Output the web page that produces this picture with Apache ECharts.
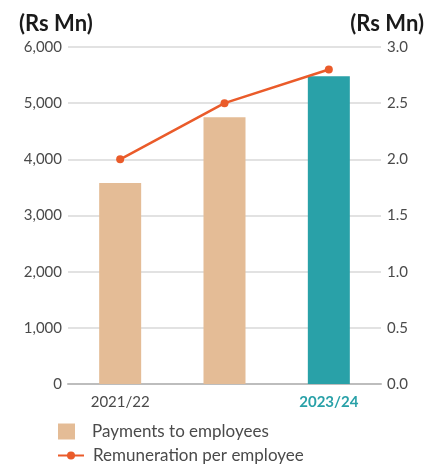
<!DOCTYPE html>
<html>
<head>
<meta charset="utf-8">
<script src="https://cdn.jsdelivr.net/npm/echarts@6/dist/echarts.min.js"></script>
<style>
  html, body { margin: 0; padding: 0; background: #fff; }
  #chart { width: 448px; height: 464px; }
</style>
</head>
<body>
<div id="chart"></div>
<script>
// Years shown on the category axis
const years = ['2021/22', '2022/23', '2023/24'];
// Payments to employees (Rs Mn), left axis
const payments = [3580, 4750, 5480];
// Remuneration per employee (Rs Mn), right axis
const remuneration = [2.0, 2.5, 2.8];
// Axis tick settings
const leftTicks = { min: 0, max: 6000, interval: 1000 };
const rightTicks = { min: 0, max: 3, interval: 0.5 };

const FONT = 'Lato, "Noto Sans", sans-serif';
const BEIGE = '#E4BC96';
const TEAL = '#29A1A8';
const ORANGE = '#EA5B2A';
const TEXT = '#4a4a4a';

const chart = echarts.init(document.getElementById('chart'), null, { renderer: 'canvas' });

chart.setOption({
  animation: false,
  textStyle: { fontFamily: FONT },
  title: [
    { text: '(Rs Mn)', left: 14, top: 8, textStyle: { fontFamily: FONT, fontSize: 22, fontWeight: 'bold', color: '#1a1a1a' } },
    { text: '(Rs Mn)', right: 19, top: 8, textStyle: { fontFamily: FONT, fontSize: 22, fontWeight: 'bold', color: '#1a1a1a' } }
  ],
  grid: { left: 68, right: 67, top: 47, bottom: 80, containLabel: false },
  legend: [
    {
      data: [{ name: 'Payments to employees', icon: 'rect' }],
      left: 58, top: 423, orient: 'vertical', padding: 0,
      itemWidth: 17, itemHeight: 16,
      textStyle: { fontFamily: FONT, fontSize: 17, color: TEXT, padding: [0, 0, 0, 12] }
    },
    {
      data: ['Remuneration per employee'],
      left: 57, top: 447, orient: 'vertical', padding: 0,
      itemWidth: 26, itemHeight: 10,
      textStyle: { fontFamily: FONT, fontSize: 17, color: TEXT, padding: [0, 0, 0, 4] }
    }
  ],
  xAxis: {
    type: 'category',
    data: years,
    axisLine: { show: true, lineStyle: { color: '#bdbdbd', width: 2 } },
    axisTick: { show: false },
    axisLabel: {
      margin: 11,
      fontFamily: FONT, fontSize: 15, color: TEXT,
      formatter: function (v) { return v === '2023/24' ? '{hl|' + v + '}' : v; },
      rich: { hl: { fontFamily: FONT, fontSize: 15, fontWeight: 'bold', color: TEAL } }
    }
  },
  yAxis: [
    {
      type: 'value',
      min: leftTicks.min, max: leftTicks.max, interval: leftTicks.interval,
      axisLine: { show: false }, axisTick: { show: false },
      splitLine: { show: true, lineStyle: { color: '#d9d9d9', width: 1.5 } },
      axisLabel: {
        margin: 6, fontFamily: FONT, fontSize: 15, color: TEXT,
        formatter: function (v) { return v.toLocaleString('en-US'); }
      }
    },
    {
      type: 'value',
      min: rightTicks.min, max: rightTicks.max, interval: rightTicks.interval,
      axisLine: { show: false }, axisTick: { show: false },
      splitLine: { show: false },
      axisLabel: {
        margin: 6, fontFamily: FONT, fontSize: 15, color: TEXT,
        formatter: function (v) { return v.toFixed(1); }
      }
    }
  ],
  series: [
    {
      name: 'Payments to employees',
      type: 'bar',
      yAxisIndex: 0,
      barWidth: 42,
      itemStyle: { color: BEIGE },
      data: payments.map(function (v, i) {
        return i === payments.length - 1 ? { value: v, itemStyle: { color: TEAL } } : v;
      })
    },
    {
      name: 'Remuneration per employee',
      type: 'line',
      yAxisIndex: 1,
      data: remuneration,
      symbol: 'circle',
      symbolSize: 8,
      lineStyle: { color: ORANGE, width: 2.5 },
      itemStyle: { color: ORANGE }
    }
  ]
});
</script>
</body>
</html>
